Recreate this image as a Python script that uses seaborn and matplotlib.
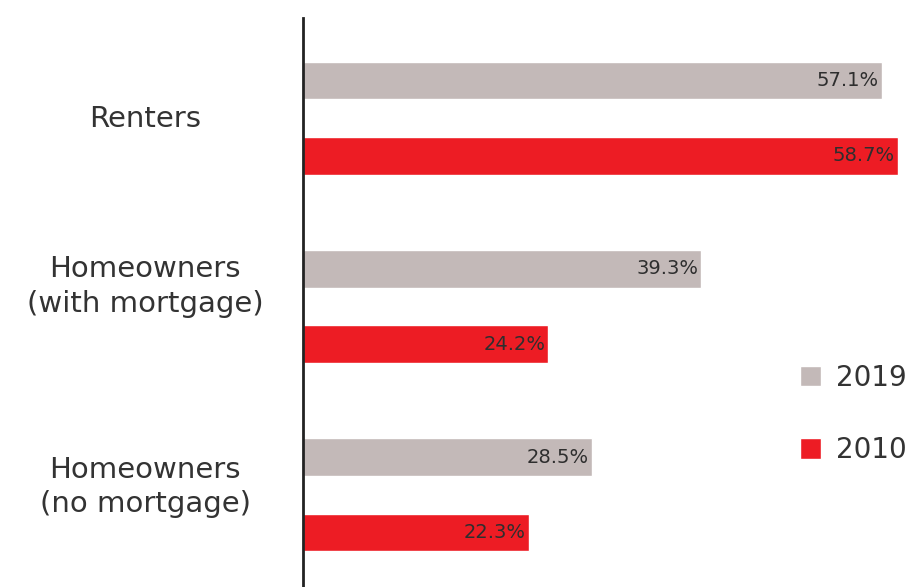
import matplotlib
matplotlib.use("Agg")
import matplotlib.pyplot as plt
import matplotlib.transforms as mtransforms
import seaborn as sns
import pandas as pd

categories = ["Renters", "Homeowners\n(with mortgage)", "Homeowners\n(no mortgage)"]
years = ["2019", "2010"]
values_2019 = [57.1, 39.3, 28.5]
values_2010 = [58.7, 24.2, 22.3]

colors = {"2019": "#c3b9b8", "2010": "#ed1c24"}

df = pd.DataFrame({
    "category": categories * 2,
    "year": [years[0]] * 3 + [years[1]] * 3,
    "value": values_2019 + values_2010,
})

sns.set_theme(style="white")
plt.rcParams["font.family"] = ["DejaVu Sans"]

fig = plt.figure(figsize=(9.15, 5.87), dpi=100)
ax = fig.add_axes([0.331, 0.0, 0.669, 0.969])

sns.barplot(data=df, y="category", x="value", hue="year", hue_order=years,
            palette=colors, orient="h", width=0.8, gap=0.5, ax=ax,
            saturation=1, errorbar=None, legend=True)

# value labels inside the end of each bar
for year, vals in zip(years, [values_2019, values_2010]):
    offset = -0.2 if year == "2019" else 0.2
    for i, v in enumerate(vals):
        ax.annotate(f"{v}%", xy=(v, i + offset), xytext=(-2, 0),
                    textcoords="offset points", ha="right", va="center",
                    fontsize=14, color="#2e2e2e")

ax.set_xlim(0, 60.4)
ax.set_ylim(2.49, -0.53)
ax.set_xlabel("")
ax.set_ylabel("")
ax.set_xticks([])
ax.tick_params(axis="y", length=0, labelsize=21, labelcolor="#333333")

# category labels: centred in the left margin, nudged up slightly
label_shift_px = [2, 26, 14]
for lbl, dy in zip(ax.get_yticklabels(), label_shift_px):
    lbl.set_horizontalalignment("center")
    lbl.set_linespacing(1.3)
    lbl.set_transform(lbl.get_transform() +
                      mtransforms.ScaledTranslation(-153 / 100, dy / 100,
                                                    fig.dpi_scale_trans))

for s in ["top", "right", "bottom"]:
    ax.spines[s].set_visible(False)
ax.spines["left"].set_color("#222222")
ax.spines["left"].set_linewidth(2)

handles, labels = ax.get_legend_handles_labels()
ax.legend(handles, labels, loc="center left", bbox_to_anchor=(0.812, 0.304),
          frameon=False, fontsize=20, handlelength=0.75, handleheight=0.75,
          handletextpad=0.55, labelspacing=1.6, labelcolor="#333333",
          borderaxespad=0, borderpad=0)

fig.savefig("out.png", dpi=100)
